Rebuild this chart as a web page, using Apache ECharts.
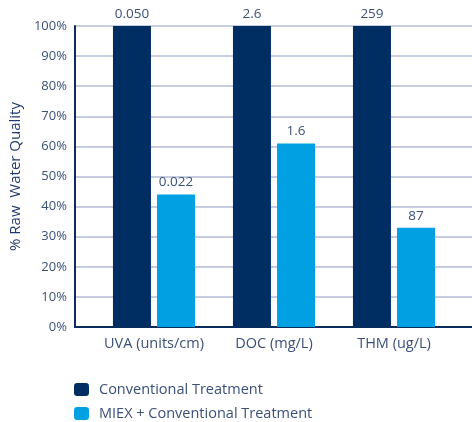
<!DOCTYPE html>
<html>
<head>
<meta charset="utf-8">
<script src="https://cdn.jsdelivr.net/npm/echarts@6/dist/echarts.min.js"></script>
<style>
html,body{margin:0;padding:0;background:#fff;}
#c{width:472px;height:422px;}
</style>
</head>
<body>
<div id="c"></div>
<script>
var categories = ['UVA (units/cm)', 'DOC (mg/L)', 'THM (ug/L)'];
var seriesNames = ['Conventional Treatment', 'MIEX + Conventional Treatment'];
var conventionalPct = [100, 100, 100];
var miexPct = [44, 61, 33];
var conventionalLabels = ['0.050', '2.6', '259'];
var miexLabels = ['0.022', '1.6', '87'];
var yTicks = [0, 10, 20, 30, 40, 50, 60, 70, 80, 90, 100];

var textColor = '#3b5079';
var font = '"Open Sans", "Noto Sans", sans-serif';

function legendFor(name, top) {
  return {
    orient: 'vertical',
    left: 74,
    top: top,
    padding: 0,
    itemWidth: 15,
    itemHeight: 13,
    textStyle: {color: textColor, fontSize: 14.5, fontFamily: font, padding: [0, 0, 0, 5]},
    data: [name]
  };
}

var chart = echarts.init(document.getElementById('c'), null, {renderer: 'canvas'});
chart.setOption({
  animation: false,
  textStyle: {fontFamily: font},
  grid: [
    {left: 74, right: 0, top: 26, bottom: 95},
    {left: 94, width: 360, top: 26, bottom: 95}
  ],
  legend: [legendFor(seriesNames[0], 382), legendFor(seriesNames[1], 406)],
  xAxis: [
    {
      type: 'value', gridIndex: 0, min: 0, max: 1,
      axisLine: {show: true, lineStyle: {color: '#0d2c5e', width: 2}},
      axisTick: {show: false}, axisLabel: {show: false}, splitLine: {show: false}
    },
    {
      type: 'category', gridIndex: 1, data: categories,
      axisLine: {show: false}, axisTick: {show: false},
      axisLabel: {color: textColor, fontSize: 14.5, margin: 9, interval: 0, fontFamily: font}
    }
  ],
  yAxis: [
    {
      type: 'value', gridIndex: 0, min: 0, max: 100, interval: 10,
      name: '% Raw  Water Quality',
      nameLocation: 'middle',
      nameGap: 46,
      nameTextStyle: {color: '#1f3a6e', fontSize: 15, fontWeight: 500, fontFamily: font},
      axisLine: {show: true, lineStyle: {color: '#0d2c5e', width: 2}},
      axisTick: {show: false},
      axisLabel: {color: textColor, fontSize: 13, margin: 8, formatter: '{value}%', fontFamily: font},
      splitLine: {show: true, lineStyle: {color: '#b4bdd6', width: 1.5}}
    },
    {
      type: 'value', gridIndex: 1, min: 0, max: 100, interval: 10, show: false
    }
  ],
  series: [
    {
      name: seriesNames[0], type: 'bar', xAxisIndex: 1, yAxisIndex: 1,
      data: conventionalPct, barWidth: 38, barGap: '16%',
      itemStyle: {color: '#002d62'},
      label: {show: true, position: 'top', distance: 5, color: textColor, fontSize: 13.5, fontFamily: font,
        formatter: function (p) { return conventionalLabels[p.dataIndex]; }}
    },
    {
      name: seriesNames[1], type: 'bar', xAxisIndex: 1, yAxisIndex: 1,
      data: miexPct, barWidth: 38, barGap: '16%',
      itemStyle: {color: '#00a0e2'},
      label: {show: true, position: 'top', distance: 5, color: textColor, fontSize: 13.5, fontFamily: font,
        formatter: function (p) { return miexLabels[p.dataIndex]; }}
    }
  ]
});
</script>
</body>
</html>
